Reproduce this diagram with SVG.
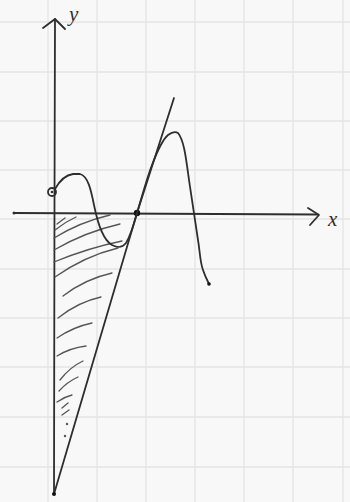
<svg xmlns="http://www.w3.org/2000/svg" width="350" height="502" viewBox="0 0 350 502">
<style>
.grid line{stroke:#e4e4e4;stroke-width:1.3}
.ink{fill:none;stroke:#2e2e2e;stroke-width:1.8;stroke-linecap:round;stroke-linejoin:round}
.hatch path{fill:none;stroke:#555;stroke-width:1.3;stroke-linecap:round}
.lbl{font-family:"Liberation Serif",serif;font-style:italic;font-size:21px;fill:#2e2e2e}
</style>
<rect width="350" height="502" fill="#f8f8f8"/>
<g class="grid">
<line x1="48" y1="0" x2="48" y2="502"/><line x1="97" y1="0" x2="97" y2="502"/><line x1="146" y1="0" x2="146" y2="502"/><line x1="195" y1="0" x2="195" y2="502"/><line x1="244" y1="0" x2="244" y2="502"/><line x1="293" y1="0" x2="293" y2="502"/><line x1="343" y1="0" x2="343" y2="502"/>
<line x1="0" y1="22" x2="350" y2="22"/><line x1="0" y1="72" x2="350" y2="72"/><line x1="0" y1="121" x2="350" y2="121"/><line x1="0" y1="170" x2="350" y2="170"/><line x1="0" y1="219" x2="350" y2="219"/><line x1="0" y1="269" x2="350" y2="269"/><line x1="0" y1="318" x2="350" y2="318"/><line x1="0" y1="367" x2="350" y2="367"/><line x1="0" y1="417" x2="350" y2="417"/><line x1="0" y1="467" x2="350" y2="467"/>
</g>
<g id="axes">
<path class="ink" d="M14,213 L318,214.5"/>
<path class="ink" d="M308,208 L319,215 L310,225"/>
<circle cx="14" cy="213" r="1.5" fill="#2e2e2e"/>
<path class="ink" d="M55,19 L54.5,200 L54,494"/>
<path class="ink" d="M43,28 L55,19 L65,29"/>
<text class="lbl" x="328" y="226">x</text>
<text class="lbl" x="69" y="21">y</text>
</g>
<g class="hatch" id="hatch">
<path d="M57,224 L65,218"/>
<path d="M55,230 Q65,222 76,217"/>
<path d="M54,238 Q80,222 110,215"/>
<path d="M54,250 Q85,232 120,224"/>
<path d="M54,262 Q88,248 122,241"/>
<path d="M55,277 Q85,256 118,248"/>
<path d="M63,296 Q85,279 112,273"/>
<path d="M58,318 Q78,302 101,297"/>
<path d="M57,338 Q73,327 92,323"/>
<path d="M57,356 Q70,348 86,346"/>
<path d="M60,380 Q70,367 83,361"/>
<path d="M59,391 Q67,382 78,377"/>
<path d="M57,402 Q64,397 72,395"/>
<path d="M62,408 L68,403"/>
<path d="M62,415 L69,410"/>
<circle cx="67" cy="424" r="1.2" fill="#555"/>
<circle cx="65" cy="436" r="1.2" fill="#555"/>
</g>
<g id="tangent">
<path class="ink" d="M174,98 L137,213 L54,494"/>
<circle cx="137" cy="213" r="3.2" fill="#111"/>
<circle cx="54" cy="494" r="2" fill="#111"/>
</g>
<g id="curve">
<circle cx="52" cy="192" r="4" fill="none" stroke="#2e2e2e" stroke-width="1.8"/>
<circle cx="52" cy="192" r="1.3" fill="#2e2e2e"/>
<path class="ink" d="M55,189 C60,180 66,175 73,174 L80,174 C88,176 91,190 94,205 C98,225 103,240 112,245 C118,248 122,248 126,243 C131,235 134,224 137,213 C142,196 147,178 152,165 C157,152 162,140 168,135 C172,132 175,131 178,133 C184,140 186,158 189,180 C192,200 195,220 198,240 C200,252 200,262 203,270 C205,276 207,280 209,284"/>
<circle cx="209" cy="284" r="1.8" fill="#111"/>
</g>
</svg>
